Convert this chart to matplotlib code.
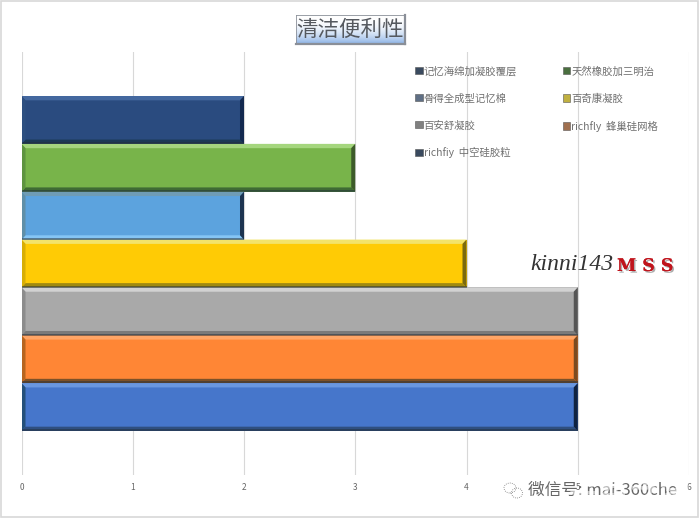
import matplotlib
matplotlib.use("Agg")
import matplotlib.pyplot as plt
import matplotlib.patheffects as pe
from matplotlib.patches import Patch, Rectangle, Ellipse
import numpy as np

plt.rcParams['font.family'] = ['Noto Sans CJK SC', 'DejaVu Sans']

title = "清洁便利性"
names = ["记忆海绵加凝胶覆层", "天然橡胶加三明治", "骨得全成型记忆棉", "百奇康凝胶",
         "百安舒凝胶", "richfly  蜂巢硅网格", "richfiy  中空硅胶粒"]
values = [2, 3, 2, 4, 5, 5, 5]
xticks = [0, 1, 2, 3, 4, 5, 6]

base = ["#2a4b7f", "#78b44a", "#5ca3de", "#ffcb05", "#a9a9a9", "#ff8635", "#4676cb"]
top = ["#44689f", "#a5d67e", "#6f9cb5", "#f3e36a", "#d2d2d2", "#ffa566", "#6a97e0"]
bottom = ["#1c3a55", "#3f6b34", "#85c5f4", "#a08a10", "#7a7a7a", "#7d5128", "#2f4f80"]
left = ["#2d4f80", "#5e9440", "#5f8fa8", "#d8ae05", "#8c8c8c", "#b8651f", "#24507a"]
right = ["#13294f", "#3d5b2a", "#1c3350", "#7a6a10", "#555555", "#7a4a20", "#0f2240"]
legend_colors = ["#3a4a5f", "#4a6f3f", "#5f6f85", "#c0b040", "#808080", "#a07050", "#3a4a5f"]

fig = plt.figure(figsize=(7, 5.2), dpi=100)
ax = fig.add_axes([21.5 / 700, 1 - 475 / 520, (689 - 21.5) / 700, (475 - 52) / 520])
ax.set_xlim(0, 6)
ax.set_ylim(7.42, -1.42)
for s in ax.spines.values():
    s.set_visible(False)
ax.set_yticks([])
ax.set_xticks(xticks)
ax.tick_params(axis='x', length=0, pad=6, labelsize=6, labelcolor="#666666")
ax.grid(axis='x', color="#d8d8d8", lw=0.8, zorder=0)

ys = np.arange(len(values))
bx = 0.036
by = 0.09

ax.barh(ys, values, height=1.0, color=base, zorder=2)

# bevel on each bar, mitred at the corners
for y, v, t, b, l, r in zip(ys, values, top, bottom, left, right):
    y0 = y - 0.5
    y1 = y + 0.5
    ax.fill([0, v, v - bx, bx], [y0, y0, y0 + by, y0 + by], color=t, lw=0, zorder=3)
    ax.fill([0, v, v - bx, bx], [y1, y1, y1 - by, y1 - by], color=b, lw=0, zorder=3)
    ax.fill([0, bx, bx, 0], [y0, y0 + by, y1 - by, y1], color=l, lw=0, zorder=3)
    ax.fill([v, v - bx, v - bx, v], [y0, y0 + by, y1 - by, y1], color=r, lw=0, zorder=3)
ax.barh(ys + 0.5 - 0.015, values, height=0.04, color="#24303c", alpha=0.5, zorder=5)

# matplotlib fills legend columns first, reference reads row by row
order = [0, 2, 4, 6, 1, 3, 5]
handles = [Patch(facecolor=legend_colors[i], edgecolor="#555555", lw=0.4) for i in order]
leg = ax.legend(handles, [names[i] for i in order], ncol=2, frameon=False, fontsize=7.5,
                labelcolor="#707070", loc='upper left', bbox_to_anchor=(0.590, 0.967),
                handlelength=0.7, handleheight=0.7, handletextpad=0.1, labelspacing=1.62,
                columnspacing=4.4, borderpad=0, borderaxespad=0)
leg.set_zorder(6)

# title box with gradient
tax = fig.add_axes([296 / 700, 1 - 44 / 520, 109 / 700, 29 / 520])
grad = (np.linspace(0, 1, 50) ** 2.2)[:, None, None] * np.array([[[-0.45, -0.3, -0.1]]]) + 1
tax.imshow(grad, aspect='auto', extent=[0, 1, 0, 1])
tax.set_xticks([])
tax.set_yticks([])
for k, s in tax.spines.items():
    s.set_color("#8a8f98")
    s.set_linewidth(1.6 if k in ("right", "bottom") else 0.6)
tax.text(0.5, 0.5, title, ha='center', va='center', fontsize=15.5, color="#55595f")

# watermark
fig.text(530 / 700, 1 - 270 / 520, "kinni143", family="Liberation Serif", style="italic",
         fontsize=17, color="#333333", va='baseline')
fig.text(617 / 700, 1 - 271 / 520, "M S S", family="DejaVu Serif", weight="bold", fontsize=12.5,
         color="#c0141c", va='baseline',
         path_effects=[pe.withSimplePatchShadow(offset=(1.2, -1.2), shadow_rgbFace="#999999", alpha=0.8),
                       pe.Normal()])

# wechat mark at the bottom right
fig.text(528 / 700, 1 - 490 / 520, "微信号: mai-360che", fontsize=12, color="#666666", va='center')
for cx, cy, w, h in [(510, 488, 12, 10), (517, 493, 11, 10)]:
    fig.add_artist(Ellipse((cx / 700, 1 - cy / 520), w / 700, h / 520, transform=fig.transFigure,
                           fill=False, ec="#777777", lw=0.6, ls=(0, (1, 1.5))))
fig.text(630 / 700, 1 - 497 / 520, "卡车之家", fontsize=22, weight="bold", color="#ffffff",
         alpha=0.55, ha='center', va='center', zorder=10)

# outer frame
fig.add_artist(Rectangle((1 / 700, 3 / 520), 697 / 700, 516 / 520, transform=fig.transFigure,
                         fill=False, ec="#d8d8d8", lw=1.2))

fig.savefig("out.png", dpi=100)
